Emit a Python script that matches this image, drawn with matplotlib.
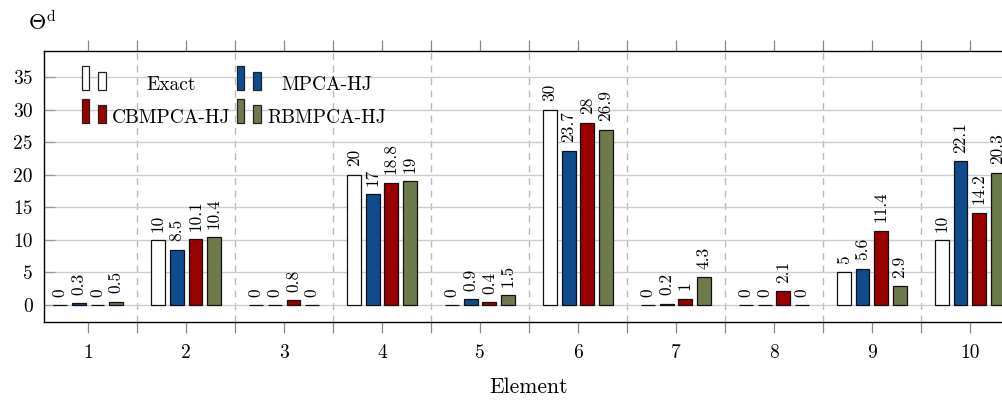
import matplotlib
matplotlib.use("Agg")
import matplotlib.pyplot as plt
import numpy as np
from matplotlib.legend_handler import HandlerBase
from matplotlib.patches import Rectangle, Patch
from matplotlib.ticker import FixedLocator

plt.rcParams['font.family'] = 'cmr10'
plt.rcParams['mathtext.fontset'] = 'cm'
plt.rcParams['axes.unicode_minus'] = False

# datos
elements = [1, 2, 3, 4, 5, 6, 7, 8, 9, 10]
exact = [0, 10, 0, 20, 0, 30, 0, 0, 5, 10]
mpca = [0.3, 8.5, 0, 17, 0.9, 23.7, 0.2, 0, 5.6, 22.1]
cbmpca = [0, 10.1, 0.8, 18.8, 0.4, 28, 1, 2.1, 11.4, 14.2]
rbmpca = [0.5, 10.4, 0, 19, 1.5, 26.9, 4.3, 0, 2.9, 20.3]

series = [("Exact", exact, "white"),
          ("MPCA-HJ", mpca, "#0e4c8e"),
          ("CBMPCA-HJ", cbmpca, "#990000"),
          ("RBMPCA-HJ", rbmpca, "#6d7a4e")]


class TwoBars(HandlerBase):
    # simbolo de leyenda con dos barritas (estilo pgfplots)
    def create_artists(self, legend, orig_handle, xdescent, ydescent,
                       width, height, fontsize, trans):
        fc = orig_handle.get_facecolor()
        r1 = Rectangle((-xdescent, 0), width * 0.29, height,
                       facecolor=fc, edgecolor="#222222", lw=0.9, transform=trans)
        r2 = Rectangle((-xdescent + width * 0.66, 0), width * 0.33, height * 0.75,
                       facecolor=fc, edgecolor="#222222", lw=0.9, transform=trans)
        return [r1, r2]


fig = plt.figure(figsize=(10.03, 4.0), dpi=100)
ax = fig.add_axes([44 / 1003, 78 / 400, 970 / 1003, 271 / 400])

x = np.array(elements, dtype=float)
step = 0.19
w = 0.14
handles = []
for i, (name, vals, col) in enumerate(series):
    pos = x + (i - 1.5) * step
    ax.bar(pos, vals, width=w, color=col, edgecolor="#111111", linewidth=0.9, zorder=3)
    for px, v in zip(pos, vals):
        ax.annotate("{:g}".format(v), (px, v), xytext=(0, 6), textcoords="offset points",
                    rotation=90, ha="center", va="bottom", fontsize=12.5, zorder=4)
    handles.append(Patch(facecolor=col, label=name))

ax.set_xlim(0.55, 10.45)
ax.set_ylim(-2.6, 39)
ax.set_yticks([0, 5, 10, 15, 20, 25, 30, 35])
ax.set_xticks(elements)
ax.xaxis.set_minor_locator(FixedLocator(np.arange(1.5, 10.5, 1.0)))

ax.grid(axis="y", color="#cccccc", lw=1.0, zorder=0)
for m in np.arange(1.5, 10.5, 1.0):
    ax.axvline(m, color="#bbbbbb", lw=1.0, ls=(0, (5, 4)), zorder=0)

ax.tick_params(axis="x", which="both", direction="out", length=8, width=0.9,
               top=True, bottom=True, color="#888888", labelsize=14, pad=8)
ax.tick_params(axis="y", which="both", direction="in", length=8, width=0.9,
               left=True, right=False, color="#999999", labelsize=14, pad=8)
for s in ax.spines.values():
    s.set_linewidth(1.0)
ax.spines["right"].set_visible(False)

ax.set_xlabel("Element", fontsize=15.5, labelpad=11)
ax.set_ylabel(r"$\Theta^{\mathrm{d}}$", fontsize=16, rotation=0, ha="center", va="center")
ax.yaxis.set_label_coords(-0.002, 1.105)

order = [handles[0], handles[2], handles[1], handles[3]]
leg = ax.legend(handles=order, ncol=2, loc="upper left", bbox_to_anchor=(0.039, 0.923),
                frameon=False, fontsize=14, handler_map={Patch: TwoBars()},
                handlelength=1.24, handleheight=1.5, handletextpad=0.3,
                columnspacing=0.35, labelspacing=0.46, borderpad=0, borderaxespad=0)

# centrar los textos de la leyenda dentro de su columna
fig.canvas.draw()
r = fig.canvas.get_renderer()
texts = leg.get_texts()
for col_idx in (0, 1):
    pair = texts[col_idx * 2:col_idx * 2 + 2]
    ws = [t.get_window_extent(r).width for t in pair]
    for t, wt in zip(pair, ws):
        t.set_x((max(ws) - wt) / 2)

fig.savefig("out.png", dpi=100)
